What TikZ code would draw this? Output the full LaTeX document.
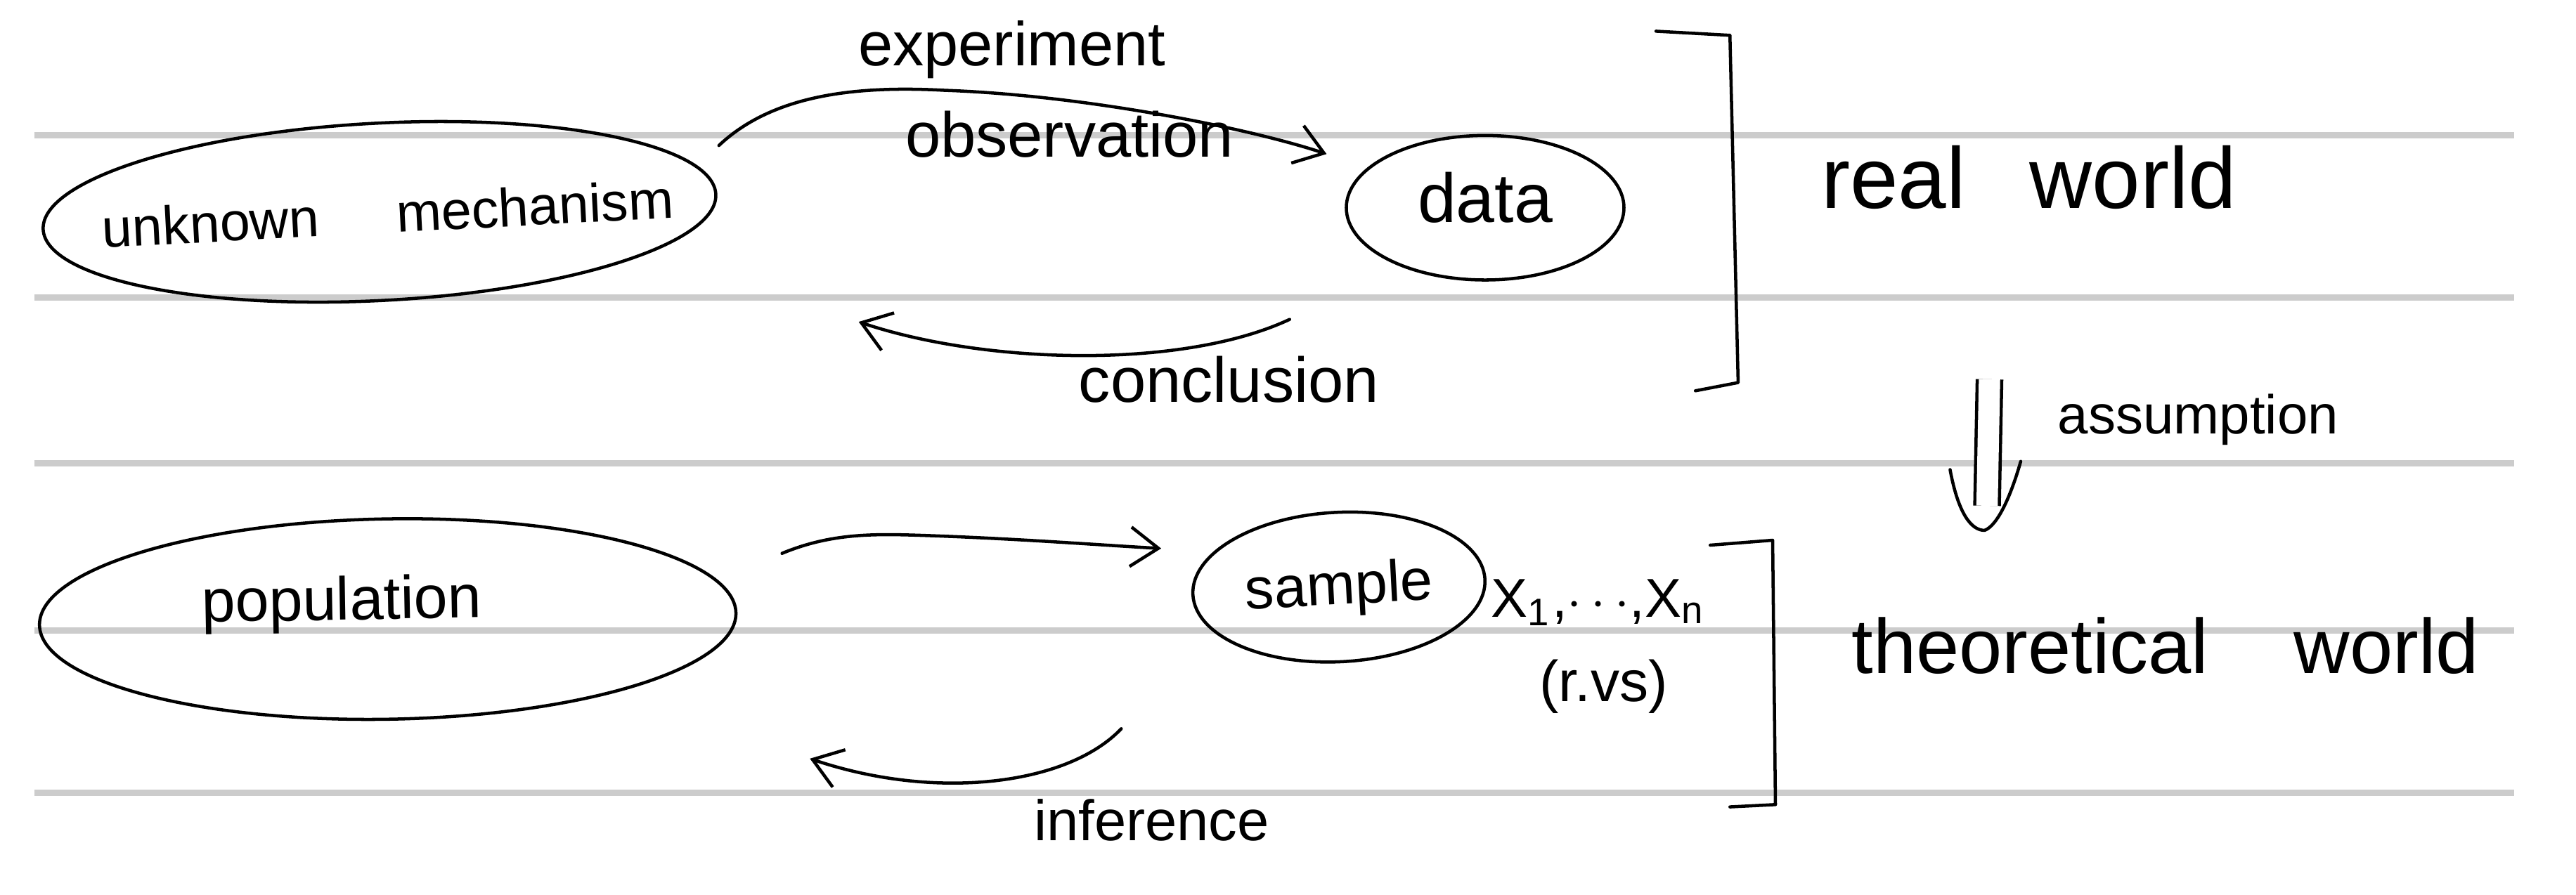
\documentclass[tikz,border=0pt]{standalone}
\usepackage{fontspec}
\setmainfont{Liberation Sans}
\usetikzlibrary{shapes.geometric,arrows.meta}
\begin{document}
\begin{tikzpicture}[x=0.1mm,y=-0.1mm,
  rule/.style={draw=gray!40, line width=1.1pt},
  ink/.style={draw=black, line width=0.55pt, line cap=round, line join=round},
  blob/.style={ellipse, draw=black, line width=0.55pt, inner sep=0pt, outer sep=0pt},
  arr/.style={ink, -{Straight Barb[length=1.7mm,width=2.4mm]}},
  lbl/.style={anchor=base, inner sep=0pt},
  fs/.style={font=\fontsize{#1}{#1}\selectfont}
]
\useasboundingbox (0,0) rectangle (1568,545);
% ruled paper lines
\foreach \yy in {82.5,181.3,282,383.8,482.7}
  \draw[rule] (20.8,\yy) -- (1530.5,\yy);

% ellipse nodes
\node[blob, fs=9.4, rotate=3, minimum width=41mm, minimum height=10.8mm,
      text height=7.4pt, text depth=0pt] (mech) at (231,129)
      {\makebox[0pt]{\hspace*{1mm}unknown\hspace{4.7mm}mechanism}};
\node[blob, fs=12, minimum width=16.9mm, minimum height=8.8mm,
      text height=5pt, text depth=0pt] (data) at (904,126.5)
      {\makebox[0pt]{data}};
\node[blob, fs=10.5, rotate=1, minimum width=42.4mm, minimum height=12.2mm,
      text height=0pt, text depth=0pt] (pop) at (236,377)
      {\makebox[0pt]{\hspace*{-5.6mm}population}};
\node[blob, fs=10.1, rotate=3, minimum width=17.8mm, minimum height=9.1mm,
      text height=6pt, text depth=0pt] (samp) at (815,357.5)
      {\makebox[0pt]{sample}};

% labels
\node[lbl, fs=10.75] (exptxt) at (616,40) {experiment};
\node[lbl, fs=11] (obstxt) at (651,95.5) {observation};
\node[lbl, fs=11] (contxt) at (748,245) {conclusion};
\node[lbl, fs=15] (realtxt) at (1235,127) {real\hspace{3.9mm}world};
\node[lbl, fs=9.5] (asmtxt) at (1338,264) {assumption};
\node[lbl, fs=9.5] (xstxt) at (973,376) {X\textsubscript{1},$\cdots$,X\textsubscript{n}};
\node[lbl, fs=10] (rvtxt) at (976,427) {(r.vs)};
\node[lbl, fs=13.4] (theotxt) at (1318,410) {theoretical\hspace{5.2mm}world};
\node[lbl, fs=9.9] (inftxt) at (701,512) {inference};

% free connector ends
\coordinate (obsS) at (437.6,88.6);
\coordinate (obsE) at (807.5,93.8);
\coordinate (conS) at (785,194.5);
\coordinate (conE) at (522.7,196);
\coordinate (smpS) at (476,337);
\coordinate (smpE) at (706.8,334);
\coordinate (infS) at (682.5,443.8);
\coordinate (infE) at (493,462);
\coordinate (asmS) at (1211,231);
\coordinate (asmM) at (1209.5,308);
\coordinate (asmE) at (1208,323);

% connectors
\draw[arr] (obsS) .. controls (470,58) and (520,52) .. (575,55)
                  .. controls (660,58) and (760,78) .. (obsE);
\draw[arr] (conS) .. controls (720,225) and (600,222) .. (conE);
\draw[arr] (smpS) .. controls (505,325) and (530,325) .. (560,326)
                  .. controls (620,328) and (670,332) .. (smpE);
\draw[arr] (infS) .. controls (650,478) and (570,488) .. (infE);
% assumption: double shaft with an open hooked head
\draw[ink, line cap=butt, double, double distance=1.3mm] (asmS) -- (asmM);
\draw[ink] (1187,286) .. controls (1192,313) and (1200,323) .. (asmE)
           .. controls (1216,320) and (1224,302) .. (1230,281);

% brackets
\draw[ink] (1008,19) -- (1053,21.5) -- (1058,233) -- (1032,238);
\draw[ink] (1041,332) -- (1079,329) -- (1080.7,490) -- (1053,491.4);
\end{tikzpicture}
\end{document}
